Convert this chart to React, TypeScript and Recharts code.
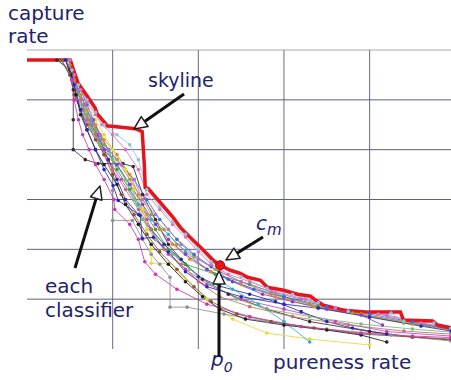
import { LineChart, Line, XAxis, YAxis, ReferenceLine } from "recharts";

type Pt = [number, number];

// skyline (upper envelope)
const skyline: Pt[] = [
  [0, 58], [10.1, 58], [10.8, 56.2], [11.9, 53.4], [14, 50.8], [15.9, 48.4], [16.4, 47.2],
  [18.2, 45.4], [18.7, 44.8], [25.3, 44.2], [26.9, 43.6], [27.4, 36.8], [27.6, 32.4],
  [28.3, 32.2], [31.1, 29.4], [34.1, 26.4], [35.8, 24.4], [38.1, 22.4], [40.5, 20.4],
  [43.5, 17.8], [45.1, 16.8], [47.5, 15.8], [49.8, 15.2], [51.5, 14.4], [54.5, 13.8],
  [56.1, 12.4], [59.9, 11.8], [63.2, 11], [66.2, 10.6], [67.4, 9.8], [69.2, 8.8],
  [73.9, 7.8], [79.8, 7.4], [87.2, 7.4], [87.9, 5.8], [94.7, 5.6], [95.9, 4.8], [99.2, 4.2],
];

// the individual classifiers
const clf01: Pt[] = [[7, 58], [10, 56], [10.8, 52], [10.8, 46], [10.8, 40], [13.6, 38], [16.6, 37.2], [22.4, 37.2], [24.8, 36.6], [27, 31], [30, 26], [33, 21], [37, 17], [41, 14], [47, 11], [56, 8], [66, 5.5], [80, 3.5], [90, 2.4], [99, 1.8]];
const clf02: Pt[] = [[9, 58], [10.5, 55], [12, 52], [13.5, 49], [15, 46], [17, 43], [19, 40], [21, 36], [24, 32], [27, 28], [30, 24], [33, 20], [37, 17], [44, 15], [52, 13], [60, 10.5], [68, 8.5], [78, 7], [88, 5.5], [99, 4]];
const clf03: Pt[] = [[8, 58], [10.5, 54], [11.5, 50], [13, 47], [15, 44], [17, 41], [19, 38], [22, 34], [25, 30], [28, 26], [30, 22], [33, 19], [37, 16], [42, 13], [50, 10], [60, 8], [72, 5.5], [84, 3.5], [99, 2.6]];
const clf04: Pt[] = [[9, 58], [10.5, 55], [12, 52], [13, 48], [15, 45], [17, 42], [19, 38], [21, 34], [23, 30], [26, 27], [29, 24], [32, 21], [36, 18], [40, 14.5], [45, 12.6], [52, 11], [58, 9.5], [64, 7.5], [70, 5.5], [76, 4.2], [84, 3]];
const clf05: Pt[] = [[10, 57], [11, 54], [12.5, 51], [14, 48], [16, 45], [18, 42], [21, 39], [24, 35], [26, 31], [28, 27], [31, 24], [34, 21], [38, 18], [43, 15.5], [50, 13], [58, 10.5], [67, 8.5], [78, 7], [90, 5], [99, 3.8]];
const clf06: Pt[] = [[10, 58], [11, 55], [12.5, 52], [14, 49], [16, 46], [18, 43], [20, 40], [23, 36], [25, 32], [27, 28], [28, 24], [29, 20], [29, 17.2], [33, 17.2], [37, 14], [42, 10], [48, 6], [56, 3.2], [66, 2], [80, 0.8]];
const clf07: Pt[] = [[9, 58], [10.5, 55], [12, 51], [14, 47], [16, 43], [18, 40], [21, 37], [24, 33], [26, 29], [29, 26], [33, 23], [37, 19.5], [42, 16], [48, 12], [54, 9], [60, 5.5], [66, 1.4]];
const clf08: Pt[] = [[8, 58], [10, 55], [11.5, 51], [13, 48], [15, 45], [17, 42], [20, 38], [20, 31.8], [20, 25.8], [24.6, 25.8], [27, 22], [29, 19], [31, 17], [33.4, 14.4], [33.4, 8.4], [37.4, 8.4], [46, 7], [56, 5.5], [70, 4], [85, 2.8], [99, 1.6]];
const clf09: Pt[] = [[9, 58], [10.5, 55], [12, 52], [13.5, 49], [15, 46], [16.5, 43], [18, 40], [21, 37], [24, 33], [27, 29], [30, 25], [33, 22], [37, 19], [42, 16], [48, 13.5], [55, 11], [62, 9.5], [70, 8], [78, 6.8], [83, 4.8]];
const clf10: Pt[] = [[10, 57], [11, 54], [12.5, 50], [14, 47], [16, 44], [18, 41], [21, 38], [24, 34], [27, 30], [29, 27], [32, 24], [35, 21], [39, 18.5], [44, 16], [50, 13.5], [57, 11], [66, 9], [76, 7.2], [88, 5.2], [99, 4]];
const clf11: Pt[] = [[9, 58], [11, 54], [12.5, 50], [14, 46], [16, 43], [18, 39], [20, 36], [23, 32], [26, 28], [29, 24], [32, 20], [36, 17], [40, 13.5], [45, 10.5], [52, 8.5], [62, 6.5], [75, 4.8], [88, 3.6], [99, 3]];
const clf12: Pt[] = [[8, 58], [10.5, 55], [12, 51], [13.5, 47], [15, 44], [17, 41], [20, 38], [23, 34], [25, 30], [27, 26], [30, 22], [34, 19], [38, 16], [43, 13], [49, 10], [56, 8], [66, 6.5], [78, 5], [90, 4], [99, 3.4]];
const clf13: Pt[] = [[10, 58], [11, 55], [12.5, 52], [14, 49], [15.5, 46], [17, 43], [19, 40], [22, 37], [25, 34], [28, 30], [31, 26], [35, 22], [39, 19], [43, 16.5], [47, 14], [53, 12], [60, 10.5], [70, 8.5], [80, 7], [90, 5.4], [99, 3.9]];
const clf14: Pt[] = [[9, 58], [10.5, 56], [12, 52], [13.5, 49], [15, 46], [17, 43], [19, 40], [22, 37], [25, 34], [27, 30], [30, 27], [33, 24], [36, 21], [40, 18], [45, 15.5], [50, 13.5], [57, 11.5], [64, 10], [72, 8.2], [84, 6.8], [99, 4]];
const clf15: Pt[] = [[8, 58], [10, 55], [11, 51], [12.5, 48], [14, 45], [16, 42], [18, 39], [20, 35], [22, 31], [25, 27], [28, 23], [31, 19.5], [35, 16], [39, 12.5], [43, 9.5], [49, 7], [57, 5.5], [67, 4.2], [78, 3], [90, 2.4], [99, 2]];
const clf16: Pt[] = [[9, 58], [10.5, 55], [11.5, 51], [12.5, 47], [14, 44], [16, 40], [18, 37], [21, 33], [23, 29], [26, 25], [29, 21], [33, 17], [37, 13.5], [41, 10.5], [45, 8], [51, 6], [60, 4.8], [70, 3.8], [78, 2.8], [84, 1.4]];
const clf17: Pt[] = [[10, 58], [11, 55], [12.5, 52], [14, 49.5], [16, 47], [17.5, 45], [20, 43], [23, 40], [26, 36], [28, 31], [31, 28], [34, 25], [37, 22.5], [40, 19.5], [43, 17], [47, 15], [52, 13.5], [58, 11.5], [65, 10], [72, 8.3], [82, 7], [92, 5.2], [99, 4.1]];
const clf18: Pt[] = [[9, 58], [10.5, 56], [12, 53], [14, 50], [16, 47.5], [18, 45], [21, 43], [24, 41], [26, 38], [28, 32], [31, 28.5], [34, 25.5], [37, 23], [40, 20], [43, 17.5], [45, 16.5], [50, 14.5], [56, 12.2], [62, 11], [68, 9.3], [75, 7.6], [85, 7.2], [88, 5.6], [95, 5.2], [99, 4.1]];
const clf19: Pt[] = [[9, 58], [10.5, 54], [11, 50], [12, 46], [13, 43], [14.5, 40], [16, 37], [18, 34], [20.3, 30], [20.5, 28], [24, 25], [26, 22], [27.5, 17.5], [30, 15], [35, 12], [42, 9], [52, 6.5], [64, 4.5], [78, 3.2], [90, 2.6], [99, 2.3]];
const clf20: Pt[] = [[9, 58], [11, 53], [12.5, 48], [14, 44], [16, 40], [18, 36], [20.1, 32.8], [21.3, 29.8], [26.4, 26.8], [26.9, 22.2], [29.5, 22.4], [33, 19.5], [37, 15.5], [42, 12.5], [50, 10.5], [60, 9], [68, 8.2], [80, 6.4], [92, 4.6], [99, 3.6]];

const classifiers = [clf01, clf02, clf03, clf04, clf05, clf06, clf07, clf08, clf09, clf10, clf11, clf12, clf13, clf14, clf15, clf16, clf17, clf18, clf19, clf20];
const classifierColors = [
  "#3a2a2a", "#3aa040", "#d040c0", "#2a2aa0", "#e08a2a", "#e6d830", "#30b0c8", "#909090", "#8a3ac8",
  "#9aa040", "#c07070", "#70c070", "#3a6ae0", "#b070d0", "#8a5030", "#202020", "#e070b0", "#90c0e0",
  "#c838b0", "#2828b8",
];

// c_m: the chosen point on the skyline
const cmPoint: Pt[] = [[45.1, 16.8]];
const gridX = [20, 40, 60, 80];
const gridY = [10, 20, 30, 40, 50];
const minorX = [0, 5, 10, 15, 20, 25, 30, 35, 40, 45, 50, 55, 60, 65, 70, 75, 80, 85, 90, 95];
const minorY = [0, 2, 4, 6, 8, 10, 12, 14, 16, 18, 20, 22, 24, 26, 28, 30, 32, 34, 36, 38, 40, 42, 44, 46, 48, 50, 52, 54, 56, 58, 60];

const toRows = (pts: Pt[]) => pts.map(([x, y]) => ({ x, y }));

const NAVY = "#22226e";
const FONT = "DejaVu Sans, sans-serif";

// hollow-headed arrow, from (x1,y1) to tip (x2,y2)
function Arrow({ x1, y1, x2, y2 }: { x1: number; y1: number; x2: number; y2: number }) {
  const dx = x2 - x1;
  const dy = y2 - y1;
  const len = Math.hypot(dx, dy);
  const ux = dx / len;
  const uy = dy / len;
  const hl = 13;
  const hw = 6;
  const bx = x2 - ux * hl;
  const by = y2 - uy * hl;
  const pts = `${x2},${y2} ${bx - uy * hw},${by + ux * hw} ${bx + uy * hw},${by - ux * hw}`;
  return (
    <g>
      <line x1={x1} y1={y1} x2={bx} y2={by} stroke="#111" strokeWidth={3} />
      <polygon points={pts} fill="#fff" stroke="#222" strokeWidth={1.5} strokeLinejoin="round" />
    </g>
  );
}

export default function App() {
  return (
    <div style={{ position: "absolute", left: 0, top: 0, width: 451, height: 380, background: "#fff", overflow: "hidden" }}>
      <LineChart width={451} height={380} margin={{ top: 50, right: 0, bottom: 31, left: 27 }}>
        <XAxis
          type="number"
          dataKey="x"
          domain={[0, 99]}
          allowDataOverflow
          ticks={minorX}
          height={0}
          mirror
          tick={false}
          tickSize={3}
          tickLine={{ stroke: "#9a9aa8" }}
          axisLine={{ stroke: "#8a8a9c" }}
        />
        <YAxis
          type="number"
          dataKey="y"
          domain={[0, 60]}
          allowDataOverflow
          ticks={minorY}
          width={0}
          mirror
          tick={false}
          tickSize={3}
          tickLine={{ stroke: "#a8a8b4" }}
          axisLine={{ stroke: "#a8a8b4" }}
        />
        <ReferenceLine y={60} stroke="#c4c4d0" strokeWidth={1.5} />
        {gridX.map((v) => (
          <ReferenceLine key={`gx${v}`} x={v} stroke="#6a6a8a" strokeWidth={1} />
        ))}
        {gridY.map((v) => (
          <ReferenceLine key={`gy${v}`} y={v} stroke="#5e5e82" strokeWidth={1} />
        ))}
        {classifiers.map((c, i) => (
          <Line
            key={i}
            data={toRows(c)}
            dataKey="y"
            type="linear"
            stroke={classifierColors[i]}
            strokeWidth={1}
            strokeOpacity={0.85}
            dot={{ r: 1.8, fill: classifierColors[i], stroke: "none" }}
            isAnimationActive={false}
          />
        ))}
        <Line
          data={toRows(skyline)}
          dataKey="y"
          type="linear"
          stroke="#e8141c"
          strokeWidth={3.5}
          dot={false}
          isAnimationActive={false}
        />
        <Line
          data={toRows(cmPoint)}
          dataKey="y"
          stroke="none"
          dot={{ r: 4.5, fill: "#e01818", stroke: "#b00000", strokeWidth: 1 }}
          isAnimationActive={false}
        />
      </LineChart>
      <svg width={451} height={380} style={{ position: "absolute", left: 0, top: 0, pointerEvents: "none" }}>
        <g fontFamily={FONT} fontSize={20} fill={NAVY}>
          <text x={8} y={20}>capture</text>
          <text x={8} y={43}>rate</text>
          <text x={148} y={87} fontSize={19}>skyline</text>
          <text x={45} y={293}>each</text>
          <text x={45} y={317}>classifier</text>
          <text x={273} y={369}>pureness rate</text>
          <text x={256} y={230} fontStyle="italic">
            c<tspan fontSize={15} dy={5}>m</tspan>
          </text>
          <text x={211} y={366} fontStyle="italic">
            p<tspan fontSize={14} dy={6}>0</tspan>
          </text>
        </g>
        <Arrow x1={184} y1={94} x2={134} y2={129} />
        <Arrow x1={75} y1={268} x2={100} y2={186} />
        <Arrow x1={263} y1={237} x2={226} y2={260} />
        <Arrow x1={219} y1={357} x2={219} y2={271} />
      </svg>
    </div>
  );
}
